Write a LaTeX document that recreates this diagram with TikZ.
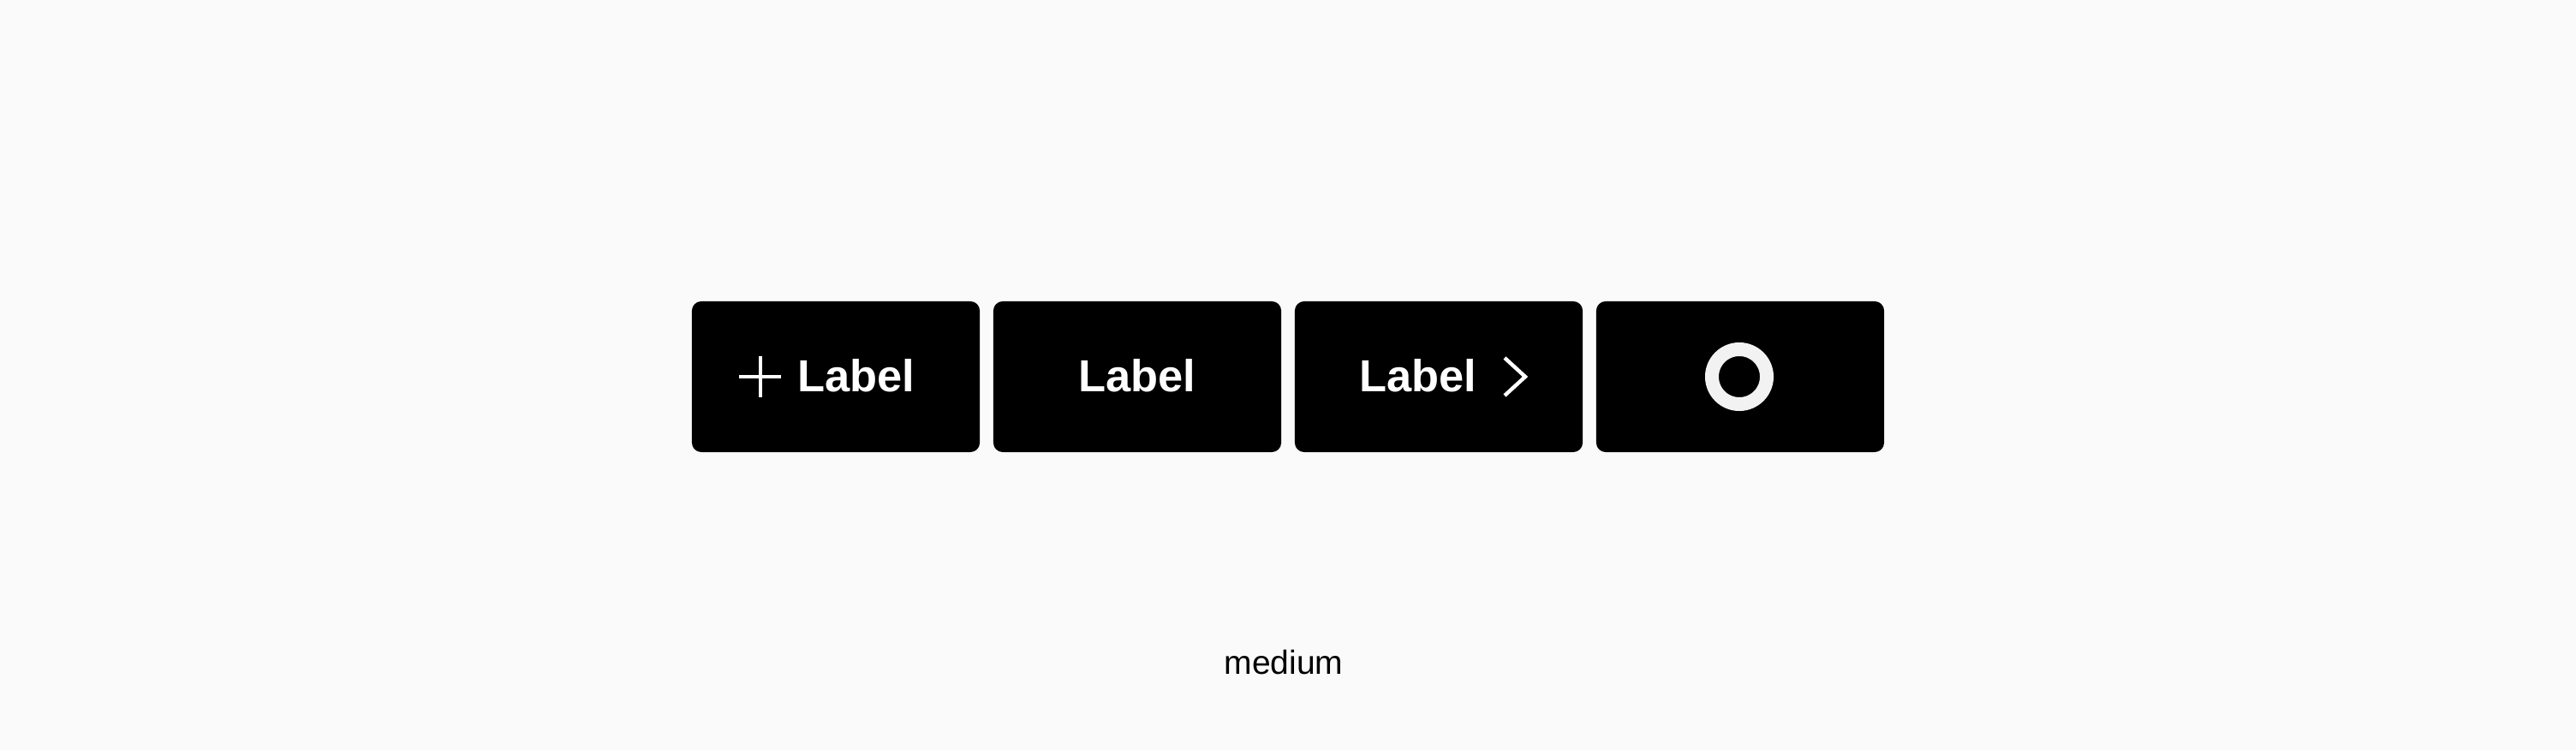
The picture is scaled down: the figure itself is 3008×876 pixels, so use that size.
\documentclass[tikz,border=0pt]{standalone}
\usepackage{fontspec}
\setmainfont{Liberation Sans}
\definecolor{bgcol}{HTML}{FAFAFA}
\definecolor{ringcol}{HTML}{F2F2F2}

\def\bwidth{3.36}
\def\bheight{1.76}
\def\lwidth{1.25}

\begin{document}
\begin{tikzpicture}[x=0.01cm,y=-0.01cm,btn/.style={inner sep=0pt,rectangle,fill=black,rounded corners=0.11cm,minimum width=\bwidth cm,minimum height=\bheight cm},lbl/.style={inner sep=0pt,anchor=base,text=white,font=\fontsize{14.9}{17}\bfseries},icon/.style={draw=white,line width=\lwidth pt}]
			\fill[bgcol] (0,0) rectangle (3008,876);
			\useasboundingbox (0,0) rectangle (3008,876);
			\node[btn] (b1) at (976,440) {};
			\node[btn] (b2) at (1328,440) {};
			\node[btn] (b3) at (1680,440) {};
			\node[btn] (b4) at (2032,440) {};
			% plus + label
			\draw[icon] (863,440) -- (912,440);
			\draw[icon] (888,416) -- (888,464);
			\node[lbl] (t1) at (1000,457) {Label};
			% label only
			\node[lbl] (t2) at (1328,457) {Label};
			% label + chevron
			\node[lbl] (t3) at (1656,457) {Label};
			\draw[icon,miter limit=4] (1757,418) -- (1781,440) -- (1757,462);
			% icon only
			\draw[draw=ringcol,line width=4.55pt] (2031,440) circle (0.32cm);
			\node[inner sep=0pt,anchor=base,font=\fontsize{11.1}{13}\selectfont] (size) at (1499,787) {medium};
		\end{tikzpicture}
\end{document}
